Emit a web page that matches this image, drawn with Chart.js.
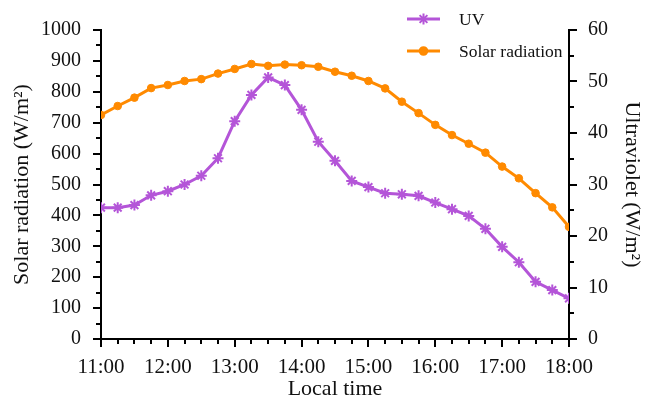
<!DOCTYPE html>
<html>
<head>
<meta charset="utf-8">
<script src="https://cdn.jsdelivr.net/npm/chart.js@4/dist/chart.umd.min.js"></script>
<style>
  html, body { margin: 0; padding: 0; background: #fff; }
  #wrap { width: 648px; height: 396px; }
</style>
</head>
<body>
<div id="wrap"><canvas id="chart"></canvas></div>
<script>
/* ------------------------------
 * data
 * ------------------------------ */
const times = ['11:00', '11:15', '11:30', '11:45', '12:00', '12:15', '12:30', '12:45',
  '13:00', '13:15', '13:30', '13:45', '14:00', '14:15', '14:30', '14:45',
  '15:00', '15:15', '15:30', '15:45', '16:00', '16:15', '16:30', '16:45',
  '17:00', '17:15', '17:30', '17:45', '18:00'];

const solarRadiation = [725, 754, 781, 812, 822, 835, 841, 859,
  874, 890, 884, 888, 886, 881, 865, 852,
  835, 811, 768, 731, 693, 660, 632, 603,
  558, 520, 472, 426, 363];

const uv = [25.5, 25.5, 26.0, 27.9, 28.7, 30.0, 31.7, 35.1,
  42.3, 47.4, 50.8, 49.3, 44.5, 38.3, 34.6, 30.7,
  29.5, 28.3, 28.1, 27.8, 26.5, 25.2, 23.9, 21.4,
  17.9, 14.9, 11.1, 9.5, 7.9];

const hourLabels = ['11:00', '12:00', '13:00', '14:00', '15:00', '16:00', '17:00', '18:00'];

const COLORS = {
  uv: '#b455d8',
  solar: '#ff8a00',
  axis: '#000'
};

const FONT = 'Liberation Serif, Times New Roman, serif';

// minutes after 11:00
function toMinutes(t) {
  const [h, m] = t.split(':').map(Number);
  return (h - 11) * 60 + m;
}

/* ------------------------------
 * tick marks (major / minor)
 * ------------------------------ */
const tickMarks = {
  id: 'tickMarks',
  afterDraw(chart) {
    const ctx = chart.ctx;
    const { x, y, y2 } = chart.scales;
    ctx.save();
    ctx.strokeStyle = COLORS.axis;
    ctx.lineWidth = 2;
    ctx.beginPath();
    for (let v = 0; v <= 420; v += 15) {
      const px = Math.round(x.getPixelForValue(v));
      const len = v % 60 === 0 ? 8 : 5;
      ctx.moveTo(px, y.bottom);
      ctx.lineTo(px, y.bottom + len);
    }
    for (let v = 0; v <= 1000; v += 50) {
      const py = Math.round(y.getPixelForValue(v));
      const len = v % 100 === 0 ? 8 : 5;
      ctx.moveTo(x.left, py);
      ctx.lineTo(x.left - len, py);
    }
    for (let v = 0; v <= 60; v += 5) {
      const py = Math.round(y2.getPixelForValue(v));
      const len = v % 10 === 0 ? 8 : 5;
      ctx.moveTo(x.right, py);
      ctx.lineTo(x.right + len, py);
    }
    ctx.stroke();
    ctx.restore();
  }
};

/* ------------------------------
 * legend (line + marker)
 * ------------------------------ */
const lineLegend = {
  id: 'lineLegend',
  afterDraw(chart) {
    const ctx = chart.ctx;
    ctx.save();
    ctx.font = '17.5px ' + FONT;
    ctx.textBaseline = 'middle';
    chart.data.datasets.forEach((ds, i) => {
      const ly = 19 + i * 32;
      ctx.strokeStyle = ds.borderColor;
      ctx.lineWidth = 3;
      ctx.beginPath();
      ctx.moveTo(407, ly);
      ctx.lineTo(440, ly);
      ctx.stroke();
      ctx.fillStyle = ds.borderColor;
      ctx.lineWidth = 2;
      Chart.helpers.drawPoint(ctx, {
        pointStyle: ds.pointStyle,
        radius: ds.pointRadius,
        borderWidth: 2
      }, 423.5, ly);
      ctx.fillStyle = '#111';
      ctx.fillText(ds.label, 459, ly + 1);
    });
    ctx.restore();
  }
};

const ctx = document.getElementById('chart');

new Chart(ctx, {
  type: 'line',
  plugins: [tickMarks, lineLegend],
  data: {
    datasets: [
      {
        label: 'UV',
        data: times.map((t, i) => ({ x: toMinutes(t), y: uv[i] })),
        yAxisID: 'y2',
        borderColor: COLORS.uv,
        backgroundColor: COLORS.uv,
        borderWidth: 3,
        pointStyle: 'star',
        pointRadius: 5.5,
        pointBorderWidth: 2,
        tension: 0
      },
      {
        label: 'Solar radiation',
        data: times.map((t, i) => ({ x: toMinutes(t), y: solarRadiation[i] })),
        yAxisID: 'y',
        borderColor: COLORS.solar,
        backgroundColor: COLORS.solar,
        borderWidth: 3,
        pointStyle: 'circle',
        pointRadius: 3.8,
        pointBorderWidth: 1,
        tension: 0
      }
    ]
  },
  options: {
    responsive: true,
    maintainAspectRatio: false,
    animation: false,
    layout: { padding: { top: 30, left: 0, right: 0, bottom: 0 } },
    scales: {
      x: {
        type: 'linear',
        min: 0,
        max: 420,
        afterFit: s => { s.height = 57; },
        border: { display: true, color: COLORS.axis, width: 2 },
        grid: { display: false },
        ticks: {
          stepSize: 60,
          padding: 8,
          color: '#111',
          font: { family: FONT, size: 21 },
          maxRotation: 0,
          callback: v => hourLabels[v / 60]
        },
        title: {
          display: true,
          text: 'Local time',
          color: '#111',
          padding: { top: 0, bottom: 0 },
          font: { family: FONT, size: 22, lineHeight: 0.6 }
        }
      },
      y: {
        position: 'left',
        min: 0,
        max: 1000,
        afterFit: s => { s.width = 101; },
        border: { display: true, color: COLORS.axis, width: 2 },
        grid: { display: false },
        ticks: {
          stepSize: 100,
          padding: 12,
          color: '#111',
          font: { family: FONT, size: 20 },
          callback: v => String(v)
        },
        title: {
          display: true,
          text: 'Solar radiation (W/m²)',
          color: '#111',
          padding: { top: 9, bottom: 0 },
          font: { family: FONT, size: 22 }
        }
      },
      y2: {
        position: 'right',
        min: 0,
        max: 60,
        afterFit: s => { s.width = 79; },
        border: { display: true, color: COLORS.axis, width: 2 },
        grid: { display: false },
        ticks: {
          stepSize: 10,
          padding: 11,
          color: '#111',
          font: { family: FONT, size: 20 }
        },
        title: {
          display: true,
          text: 'Ultraviolet (W/m²)',
          color: '#111',
          padding: { top: 3, bottom: 0 },
          font: { family: FONT, size: 22 }
        }
      }
    },
    plugins: {
      legend: { display: false },
      tooltip: { enabled: false }
    }
  }
});
</script>
</body>
</html>
